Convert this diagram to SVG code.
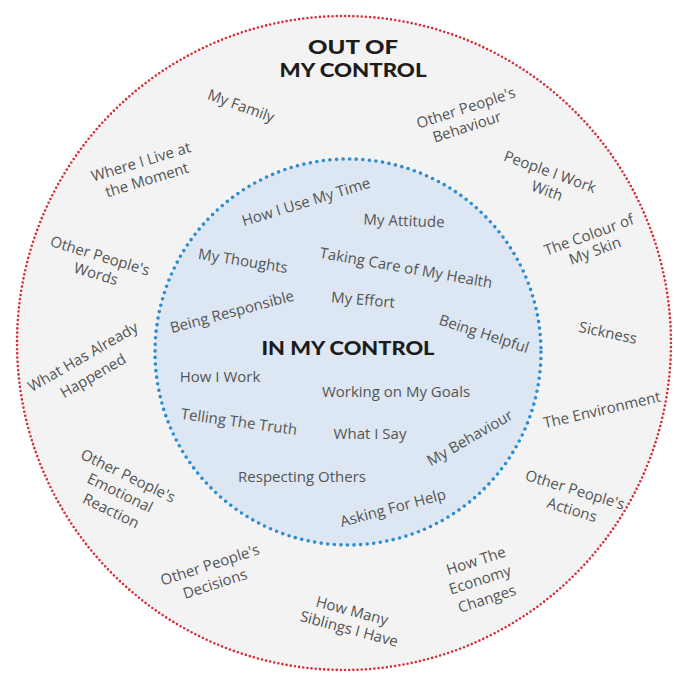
<svg xmlns="http://www.w3.org/2000/svg" width="674" height="675" viewBox="0 0 674 675">
<style>
.t{font-family:"Open Sans",Lato,"Liberation Sans",sans-serif;font-size:15px;fill:#545454;text-anchor:middle}
.h{font-family:Lato,"Open Sans","Liberation Sans",sans-serif;font-weight:900;fill:#1c1c1c;text-anchor:middle;font-size:19.5px}
</style>
<rect width="674" height="675" fill="#ffffff"/>
<g id="outer-circle">
<circle cx="344" cy="343" r="327" fill="#f3f3f3" stroke="#d42f3a" stroke-width="2.6" stroke-dasharray="0 4.2" stroke-linecap="round"/>
</g>
<g id="inner-circle">
<circle cx="348" cy="352" r="193" fill="#dce7f3" stroke="#2b8ccf" stroke-width="3.6" stroke-dasharray="0 6.6" stroke-linecap="round"/>
</g>
<g id="connectors"></g>
<g id="title-out">
<text class="h" x="353" y="54" textLength="90" lengthAdjust="spacingAndGlyphs">OUT OF</text>
<text class="h" x="353" y="77" textLength="147" lengthAdjust="spacingAndGlyphs">MY CONTROL</text>
</g>
<g id="title-in">
<text class="h" x="348" y="355" textLength="173" lengthAdjust="spacingAndGlyphs">IN MY CONTROL</text>
</g>
<g id="out-family"><text class="t" transform="translate(241,106) rotate(20)" y="5">My Family</text></g>
<g id="out-behaviour">
<text class="t" transform="translate(466,108) rotate(-18)" y="5">Other People's</text>
<text class="t" transform="translate(467,127) rotate(-18)" y="5">Behaviour</text>
</g>
<g id="out-live">
<text class="t" transform="translate(141,162) rotate(-17)" y="5">Where I Live at</text>
<text class="t" transform="translate(147,180) rotate(-17)" y="5">the Moment</text>
</g>
<g id="out-work">
<text class="t" transform="translate(550,172) rotate(20)" y="5">People I Work</text>
<text class="t" transform="translate(547,191) rotate(20)" y="5">With</text>
</g>
<g id="out-skin">
<text class="t" transform="translate(589,235) rotate(-20)" y="5">The Colour of</text>
<text class="t" transform="translate(595,251) rotate(-20)" y="5">My Skin</text>
</g>
<g id="out-words">
<text class="t" transform="translate(100,256) rotate(17)" y="5">Other People's</text>
<text class="t" transform="translate(96,274) rotate(17)" y="5">Words</text>
</g>
<g id="out-sickness"><text class="t" transform="translate(608,333) rotate(12)" y="5">Sickness</text></g>
<g id="out-happened">
<text class="t" transform="translate(83,357) rotate(-30)" y="5">What Has Already</text>
<text class="t" transform="translate(93,376) rotate(-30)" y="5">Happened</text>
</g>
<g id="out-environment"><text class="t" transform="translate(602,410) rotate(-13)" y="5">The Environment</text></g>
<g id="out-emotional">
<text class="t" transform="translate(128,476) rotate(26)" y="5">Other People's</text>
<text class="t" transform="translate(120,493) rotate(26)" y="5">Emotional</text>
<text class="t" transform="translate(111,511) rotate(26)" y="5">Reaction</text>
</g>
<g id="out-actions">
<text class="t" transform="translate(575,490) rotate(17)" y="5">Other People's</text>
<text class="t" transform="translate(572,510) rotate(17)" y="5">Actions</text>
</g>
<g id="out-decisions">
<text class="t" transform="translate(210,565) rotate(-18)" y="5">Other People's</text>
<text class="t" transform="translate(215,584) rotate(-18)" y="5">Decisions</text>
</g>
<g id="out-economy">
<text class="t" transform="translate(476,561) rotate(-18)" y="5">How The</text>
<text class="t" transform="translate(480,580) rotate(-18)" y="5">Economy</text>
<text class="t" transform="translate(487,599) rotate(-18)" y="5">Changes</text>
</g>
<g id="out-siblings">
<text class="t" transform="translate(352,611) rotate(15)" y="5">How Many</text>
<text class="t" transform="translate(349,629) rotate(15)" y="5">Siblings I Have</text>
</g>
<g id="in-time"><text class="t" transform="translate(306,202) rotate(-17)" y="5">How I Use My Time</text></g>
<g id="in-attitude"><text class="t" transform="translate(404,221) rotate(2)" y="5">My Attitude</text></g>
<g id="in-thoughts"><text class="t" transform="translate(243,261) rotate(9)" y="5">My Thoughts</text></g>
<g id="in-health"><text class="t" transform="translate(406,268) rotate(10)" y="5">Taking Care of My Health</text></g>
<g id="in-responsible"><text class="t" transform="translate(232,312) rotate(-15)" y="5">Being Responsible</text></g>
<g id="in-effort"><text class="t" transform="translate(363,300) rotate(5)" y="5">My Effort</text></g>
<g id="in-helpful"><text class="t" transform="translate(484,334) rotate(18)" y="5">Being Helpful</text></g>
<g id="in-work"><text class="t" transform="translate(220,377)" y="5">How I Work</text></g>
<g id="in-goals"><text class="t" transform="translate(396,392)" y="5">Working on My Goals</text></g>
<g id="in-truth"><text class="t" transform="translate(239,422) rotate(8)" y="5">Telling The Truth</text></g>
<g id="in-say"><text class="t" transform="translate(370,434)" y="5">What I Say</text></g>
<g id="in-behaviour"><text class="t" transform="translate(470,438) rotate(-30)" y="5">My Behaviour</text></g>
<g id="in-respecting"><text class="t" transform="translate(302,477)" y="5">Respecting Others</text></g>
<g id="in-help"><text class="t" transform="translate(393,508) rotate(-15)" y="5">Asking For Help</text></g>
</svg>
